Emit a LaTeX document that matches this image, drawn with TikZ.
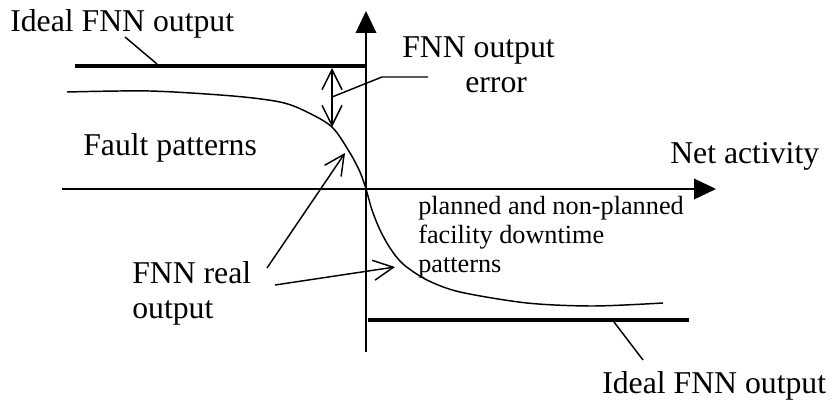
\documentclass[tikz,border=0pt]{standalone}
\usepackage{fontspec}
\setmainfont{Liberation Serif}
\usetikzlibrary{arrows.meta}
\begin{document}
\begin{tikzpicture}[x=0.75pt,y=-0.75pt,
  lbl/.style={anchor=base west,inner sep=0pt,font=\fontsize{23.8pt}{26pt}\selectfont},
  small/.style={anchor=base west,inner sep=0pt,align=left,
    font=\fontsize{19.7pt}{21.4pt}\selectfont},
  axis/.style={line width=1.1pt,-{Triangle[length=16.5pt,width=15.5pt]}},
  thin/.style={line width=1.1pt},
  bar/.style={line width=3.4pt},
  pointer/.style={line width=1.1pt,-{Straight Barb[length=15pt,width=15pt,line width=1.1pt]}},
  twoway/.style={line width=1.1pt,{Straight Barb[length=15pt,width=15pt,line width=1.1pt]}-{Straight Barb[length=15pt,width=15pt,line width=1.1pt]}}]
\useasboundingbox (0,0) rectangle (830,403);

% axes
\coordinate (ybot) at (366,352);
\coordinate (ytop) at (366,11);
\coordinate (xleft) at (62,189);
\coordinate (xright) at (716,189);
\draw[axis] (ybot) -- (ytop);
\draw[axis] (xleft) -- (xright);

% ideal outputs
\coordinate (tb1) at (75,66);
\coordinate (tb2) at (366,66);
\coordinate (bb1) at (368,320);
\coordinate (bb2) at (689,320);
\draw[bar] (tb1) -- (tb2);
\draw[bar] (bb1) -- (bb2);

% real output curve
\draw[thin] plot[smooth] coordinates {(67,92) (150,91) (233,96) (280,102) (305,111)
  (332,127) (350,153) (360,172) (366,189) (372,210) (380,230) (390,248) (403,264)
  (427,280) (460,292) (527,303) (593,306) (663,303)};

% labels
\node[lbl] (idealtop) at (10,32) {Ideal FNN output};
\node[lbl] (idealbot) at (602,393) {Ideal FNN output};
\node[lbl] (errtxt) at (402,57) {FNN output};
\node[lbl] (errtxt2) at (465,92) {error};
\node[lbl] (fault) at (83,155) {Fault patterns};
\node[lbl] (net) at (670,163) {Net activity};
\node[lbl] (real1) at (132,283) {FNN real};
\node[lbl] (real2) at (132,318) {output};
% base of a multi-line node is the baseline of its last line
\node[small] (plan) at (418,272) {planned and non-planned\\facility downtime\\patterns};

% leaders
\coordinate (lt1) at (125,37);
\coordinate (lt2) at (157,64);
\draw[thin] (lt1) -- (lt2);
\coordinate (lb1) at (614,322);
\coordinate (lb2) at (643,360);
\draw[thin] (lb1) -- (lb2);

% output error
\coordinate (e1) at (332,68);
\coordinate (e2) at (332,127);
\draw[twoway] (e1) -- (e2);
\coordinate (em) at (332,97);
\coordinate (ek) at (382,77);
\coordinate (ee) at (428,77);
\draw[thin] (em) -- (ek) -- (ee);

% real output pointers
\coordinate (r1s) at (267,268);
\coordinate (r1e) at (345,153);
\coordinate (r2s) at (275,285);
\coordinate (r2e) at (395,267);
\draw[pointer] (r1s) -- (r1e);
\draw[pointer] (r2s) -- (r2e);
\end{tikzpicture}
\end{document}
